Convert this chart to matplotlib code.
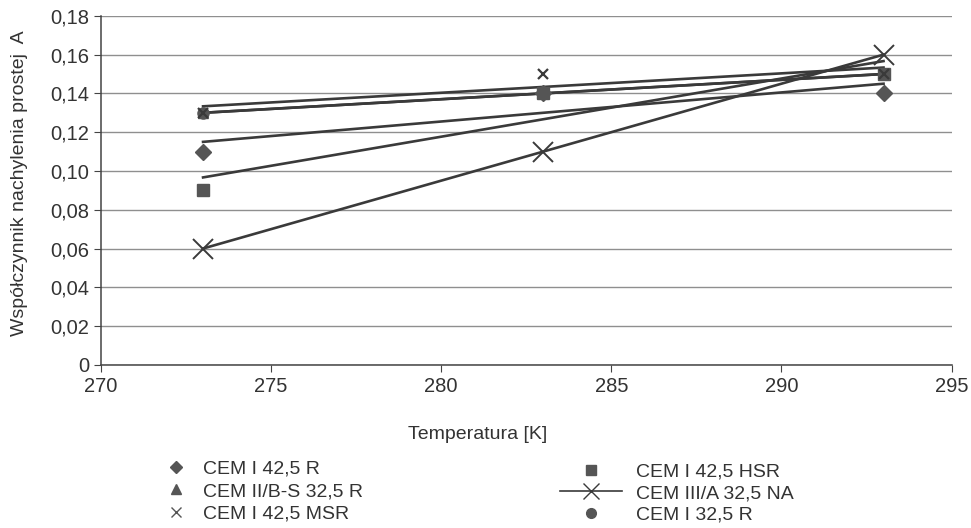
import numpy as np
import matplotlib
matplotlib.use("Agg")
import matplotlib.pyplot as plt
from matplotlib.lines import Line2D
from matplotlib import ticker

plt.rcParams['font.family'] = ['Liberation Sans', 'DejaVu Sans']

TEMP = [273, 283, 293]
CEM_I_425_R = [0.11, 0.14, 0.14]
CEM_II_BS_325_R = [0.13, 0.14, 0.15]
CEM_I_425_MSR = [0.13, 0.15, 0.15]
CEM_I_425_HSR = [0.09, 0.14, 0.15]
CEM_III_A_325_NA = [0.06, 0.11, 0.16]
CEM_I_325_R = [0.13, 0.14, 0.15]

DARK = '#3a3a3a'
MARK = '#555555'
TXT = '#333333'


def trend(ax, y):
    k, b = np.polyfit(TEMP, y, 1)
    xs = np.array([TEMP[0], TEMP[-1]])
    ax.plot(xs, k * xs + b, color=DARK, lw=1.9, zorder=3)


fig = plt.figure(figsize=(9.71, 5.28), dpi=100)
ax = fig.add_axes([0.104, 0.309, 0.876, 0.661])

for y in [CEM_I_425_R, CEM_II_BS_325_R, CEM_I_425_MSR, CEM_I_425_HSR, CEM_I_325_R]:
    trend(ax, y)

ax.plot(TEMP, CEM_I_425_R, ls='none', marker='D', ms=8, color=MARK, zorder=4)
ax.plot(TEMP, CEM_II_BS_325_R, ls='none', marker='^', ms=7, color=MARK, zorder=4)
ax.plot(TEMP, CEM_I_325_R, ls='none', marker='o', ms=8, color=MARK, zorder=4)
ax.plot(TEMP, CEM_I_425_HSR, ls='none', marker='s', ms=9, color=MARK, zorder=5)
ax.plot(TEMP, CEM_I_425_MSR, ls='none', marker='x', ms=7, mew=1.6, color=DARK, zorder=5)
ax.plot(TEMP, CEM_III_A_325_NA, color=DARK, lw=1.9, marker='x', ms=14, mew=1.4, zorder=6)

ax.set_xlim(270, 295)
ax.set_ylim(0, 0.18)
ax.set_xticks(range(270, 296, 5))
ax.set_yticks(np.arange(0, 0.181, 0.02))
ax.yaxis.set_major_formatter(ticker.FuncFormatter(
    lambda v, p: '0' if abs(v) < 1e-9 else f'{v:.2f}'.replace('.', ',')))
ax.grid(axis='y', color='#8f8f8f', lw=1.0)
ax.set_axisbelow(True)
for s in ['top', 'right']:
    ax.spines[s].set_visible(False)
for s in ['left', 'bottom']:
    ax.spines[s].set_color('#444444')
    ax.spines[s].set_linewidth(1.1)
ax.tick_params(direction='out', length=5, color='#444444', labelsize=14.5,
               labelcolor=TXT)
ax.set_xlabel('Temperatura [K]', fontsize=14, color=TXT)
ax.xaxis.set_label_coords(0.443, -0.175)
ax.set_ylabel('Współczynnik nachylenia prostej  A', fontsize=14,
              color=TXT)
ax.yaxis.set_label_coords(-0.086, 0.52)

left_h = [
    Line2D([], [], ls='none', marker='D', ms=6, color=MARK),
    Line2D([], [], ls='none', marker='^', ms=7, color=MARK),
    Line2D([], [], ls='none', marker='x', ms=7, mew=1.0, color=MARK),
]
left_l = ['CEM I 42,5 R', 'CEM II/B-S 32,5 R', 'CEM I 42,5 MSR']
right_h = [
    Line2D([], [], ls='none', marker='s', ms=7, color=MARK),
    Line2D([], [], color=DARK, lw=1.2, marker='x', ms=12, mew=1.0),
    Line2D([], [], ls='none', marker='o', ms=7, color=MARK),
]
right_l = ['CEM I 42,5 HSR', 'CEM III/A 32,5 NA', 'CEM I 32,5 R']

leg1 = fig.legend(left_h, left_l, loc='upper left', bbox_to_anchor=(0.169, 0.129),
                  frameon=False, fontsize=14, handlelength=1.2,
                  labelspacing=0.26, handletextpad=0.82, borderpad=0,
                  borderaxespad=0)
for t in leg1.get_texts():
    t.set_color(TXT)
leg2 = fig.legend(right_h, right_l, loc='upper left', bbox_to_anchor=(0.577, 0.123),
                  frameon=False, fontsize=14, handlelength=3.2,
                  labelspacing=0.2, handletextpad=0.67, borderpad=0,
                  borderaxespad=0)
for t in leg2.get_texts():
    t.set_color(TXT)

fig.savefig('out.png', dpi=100)
